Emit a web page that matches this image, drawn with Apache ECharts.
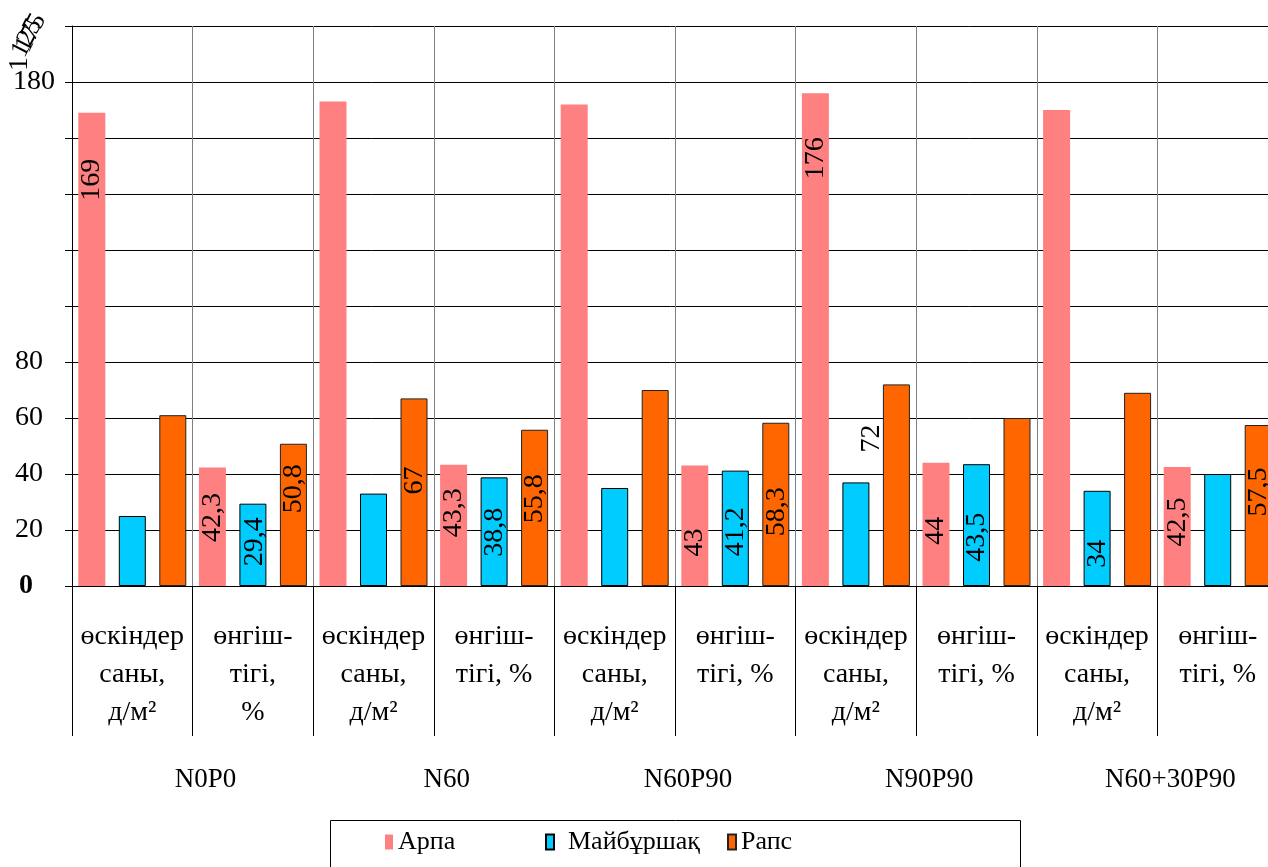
<!DOCTYPE html>
<html><head><meta charset="utf-8">
<script src="https://cdn.jsdelivr.net/npm/echarts@6/dist/echarts.min.js"></script>
<style>html,body{margin:0;padding:0;background:#fff}#c{width:1268px;height:867px}</style>
</head><body><div id="c"></div>
<script>
// ---- data ----
const categories = [
  'өскіндер\nсаны,\nд/м²', 'өнгіш-\nтігі,\n%',
  'өскіндер\nсаны,\nд/м²', 'өнгіш-\nтігі, %',
  'өскіндер\nсаны,\nд/м²', 'өнгіш-\nтігі, %',
  'өскіндер\nсаны,\nд/м²', 'өнгіш-\nтігі, %',
  'өскіндер\nсаны,\nд/м²', 'өнгіш-\nтігі, %'
];
const groups = ['N0P0', 'N60', 'N60P90', 'N90P90', 'N60+30P90'];
const seriesNames = ['Арпа', 'Майбұршақ', 'Рапс'];
const arpa = [169, 42.3, 173, 43.3, 172, 43, 176, 44, 170, 42.5];
const maibursak = [25, 29.4, 33, 38.8, 35, 41.2, 37, 43.5, 34, 40];
const raps = [61, 50.8, 67, 55.8, 70, 58.3, 72, 60, 69, 57.5];
const yTickLabels = [0, 20, 40, 60, 80, 180];

// ---- label placement (style): [x from bar left, y from bar top] in px, null = no label ----
const labelArpa = [[13.5, 67], [13.5, 50], null, [13.5, 48], null, [13.5, 77], [13.5, 65], [13.5, 68], null, [13.5, 55]];
const labelMaib = [null, [15, 38], null, [14, 55], null, [14, 61], null, [14, 73], [14, 63], null];
const labelRaps = [null, [14, 45], [14, 82], [14, 69], null, [14, 89], [-11, 54], null, null, [14, 67]];

const FONT = 'Liberation Serif';
const colors = ['#FF8080', '#00CCFF', '#FF6600'];
const borders = [{borderWidth: 0}, {borderColor: '#000', borderWidth: 1}, {borderColor: '#222', borderWidth: 1}];

function buildData(values, labels) {
  return values.map((v, i) => {
    const l = labels[i];
    if (!l) return {value: v, label: {show: false}};
    return {value: v, label: {show: true, position: l}};
  });
}
const fmt = p => String(p.value).replace('.', ',');

const chart = echarts.init(document.getElementById('c'), null, {renderer: 'canvas'});
const valueSets = [arpa, maibursak, raps];
const labelSets = [labelArpa, labelMaib, labelRaps];

const series = seriesNames.map((name, k) => ({
  name: name,
  type: 'bar',
  barWidth: 27,
  barGap: '50%',
  itemStyle: Object.assign({color: colors[k]}, borders[k]),
  label: {
    show: false, rotate: 90, align: 'center', verticalAlign: 'middle',
    fontFamily: FONT, fontSize: 28, color: '#000', formatter: fmt
  },
  emphasis: {disabled: true},
  data: buildData(valueSets[k], labelSets[k])
}));

const legendPos = [[385, 'Арпа', 0], [545, 'Майбұршақ', 9], [727, 'Рапс', 0]];

chart.setOption({
  animation: false,
  backgroundColor: '#fff',
  textStyle: {fontFamily: FONT},
  grid: {left: 72, top: 26, width: 1206, height: 560, containLabel: false, outerBoundsMode: 'none'},
  legend: legendPos.map(p => ({
    data: [p[1]], left: p[0], top: 829, padding: 0,
    itemWidth: 8, itemHeight: 15, icon: 'rect',
    textStyle: {fontFamily: FONT, fontSize: 26, color: '#000', padding: [0, 0, 0, p[2]]},
    selectedMode: false
  })),
  graphic: [
    {type: 'rect', shape: {x: 330.5, y: 820.5, width: 690, height: 60}, style: {fill: 'none', stroke: '#000', lineWidth: 1}, silent: true},
    {type: 'text', x: 20, y: 64, rotation: Math.PI / 2, style: {text: '1', font: '28px "Liberation Serif"', fill: '#000', align: 'center', verticalAlign: 'middle'}},
    {type: 'text', x: 31, y: 33, rotation: 1.1, style: {text: '175', font: '26px "Liberation Serif"', fill: '#000', align: 'center', verticalAlign: 'middle'}},
    {type: 'text', x: 27, y: 38, rotation: 1.1, style: {text: '125', font: '26px "Liberation Serif"', fill: '#000', align: 'center', verticalAlign: 'middle'}}
  ],
  xAxis: [{
    type: 'category',
    data: categories,
    position: 'bottom',
    boundaryGap: true,
    axisLine: {show: true, lineStyle: {color: '#000', width: 1}},
    axisTick: {show: true, interval: 0, length: 150, lineStyle: {color: '#000', width: 1}},
    splitLine: {show: true, interval: 0, lineStyle: {color: '#808080', width: 1}},
    axisLabel: {interval: 0, margin: 32, fontFamily: FONT, fontSize: 28, color: '#000', lineHeight: 38, align: 'center'}
  }, {
    type: 'category',
    data: groups,
    position: 'bottom',
    offset: 0,
    axisLine: {show: false},
    axisTick: {show: false},
    splitLine: {show: false},
    axisLabel: {interval: 0, margin: 180, fontFamily: FONT, fontSize: 27, color: '#000', padding: [0, 0, 0, 26]}
  }],
  yAxis: {
    type: 'value',
    min: 0, max: 200, interval: 20,
    axisLine: {show: true, lineStyle: {color: '#000', width: 1}},
    axisTick: {show: true, length: 7, lineStyle: {color: '#000'}},
    splitLine: {show: true, lineStyle: {color: '#000', width: 1}},
    axisLabel: {
      margin: 17, fontFamily: FONT, fontSize: 28, color: '#000',
      formatter: v => {
        if (yTickLabels.indexOf(v) < 0) return '';
        if (v === 0) return '{b|0}';
        if (v === 180) return '{w|180}';
        return '{n|' + v + '}';
      },
      rich: {
        b: {fontFamily: FONT, fontSize: 28, fontWeight: 'bold', color: '#000', padding: [0, 22, 0, 0]},
        n: {fontFamily: FONT, fontSize: 28, color: '#000', padding: [0, 12, 0, 0]},
        w: {fontFamily: FONT, fontSize: 28, color: '#000'}
      }
    }
  },
  series: series
});
</script></body></html>
